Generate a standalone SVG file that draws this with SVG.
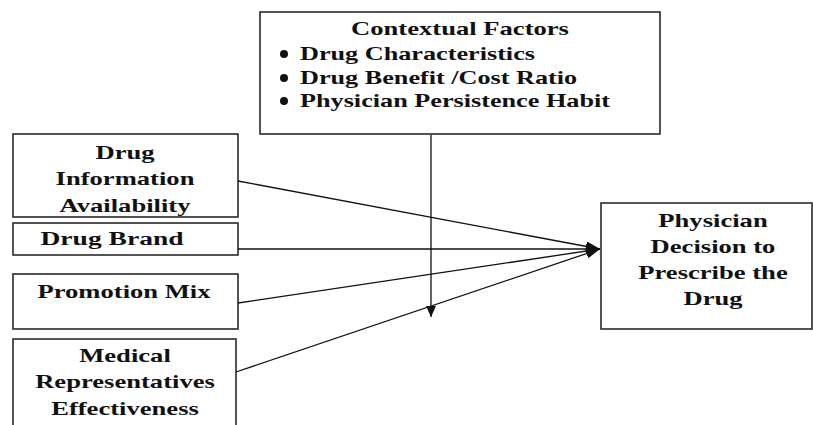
<svg xmlns="http://www.w3.org/2000/svg" width="813" height="425" viewBox="0 0 813 425">
<style>
.box{fill:#fff;stroke:#2a2a2a;stroke-width:1.6}
.t{font-family:"Liberation Serif","Times New Roman",serif;font-weight:bold;font-size:19px;fill:#111;text-anchor:middle}
.ts{font-family:"Liberation Serif","Times New Roman",serif;font-weight:bold;font-size:19px;fill:#111;text-anchor:start}
.ln{stroke:#111;stroke-width:1.3;fill:none}
</style>
<defs>
<marker id="ah" viewBox="0 0 14 10" refX="14" refY="5" markerWidth="14" markerHeight="10" markerUnits="userSpaceOnUse" orient="auto">
<path d="M0,0 L14,5 L0,10 Z" fill="#111"/>
</marker>
<marker id="ahv" viewBox="0 0 11 10" refX="11" refY="5" markerWidth="11" markerHeight="10" markerUnits="userSpaceOnUse" orient="auto">
<path d="M0,0 L11,5 L0,10 Z" fill="#111"/>
</marker>
<clipPath id="c1"><rect x="13" y="134" width="225" height="83"/></clipPath>
</defs>
<rect width="813" height="425" fill="#fff"/>
<g id="contextual">
<rect class="box" x="260" y="12" width="400" height="122"/>
<text class="t" transform="translate(460,35) scale(1.4,1)">Contextual Factors</text>
<circle cx="284" cy="54" r="4" fill="#111"/>
<circle cx="284" cy="78" r="4" fill="#111"/>
<circle cx="284" cy="101" r="4" fill="#111"/>
<text class="ts" transform="translate(300,60) scale(1.38,1)">Drug Characteristics</text>
<text class="ts" transform="translate(300,84) scale(1.38,1)">Drug Benefit /Cost Ratio</text>
<text class="ts" transform="translate(300,107) scale(1.38,1)">Physician Persistence Habit</text>
</g>
<g id="info">
<rect class="box" x="13" y="134" width="225" height="83"/>
<g clip-path="url(#c1)">
<text class="t" transform="translate(125,159) scale(1.4,1)">Drug</text>
<text class="t" transform="translate(125,185) scale(1.4,1)">Information</text>
<text class="t" transform="translate(125,212) scale(1.4,1)">Availability</text>
</g>
</g>
<g id="brand">
<rect class="box" x="13" y="223" width="225" height="32"/>
<text class="t" transform="translate(112,245) scale(1.45,1)">Drug Brand</text>
</g>
<g id="promo">
<rect class="box" x="13" y="274" width="225" height="55"/>
<text class="t" transform="translate(124,298) scale(1.4,1)">Promotion Mix</text>
</g>
<g id="medrep">
<rect class="box" x="13" y="339" width="223" height="100"/>
<text class="t" transform="translate(125,362) scale(1.4,1)">Medical</text>
<text class="t" transform="translate(125,388) scale(1.4,1)">Representatives</text>
<text class="t" transform="translate(125,415) scale(1.4,1)">Effectiveness</text>
</g>
<g id="decision">
<rect class="box" x="601" y="203" width="211" height="126"/>
<text class="t" transform="translate(713,227) scale(1.4,1)">Physician</text>
<text class="t" transform="translate(713,253) scale(1.4,1)">Decision to</text>
<text class="t" transform="translate(713,279) scale(1.4,1)">Prescribe the</text>
<text class="t" transform="translate(713,305) scale(1.4,1)">Drug</text>
</g>
<g id="connectors">
<line class="ln" x1="431" y1="135" x2="431" y2="317" marker-end="url(#ahv)"/>
<line class="ln" x1="238" y1="181" x2="600" y2="249" marker-end="url(#ah)"/>
<line class="ln" x1="238" y1="249" x2="600" y2="249" marker-end="url(#ah)"/>
<line class="ln" x1="238" y1="303" x2="600" y2="249" marker-end="url(#ah)"/>
<line class="ln" x1="236" y1="372" x2="600" y2="249" marker-end="url(#ah)"/>
</g>
</svg>
